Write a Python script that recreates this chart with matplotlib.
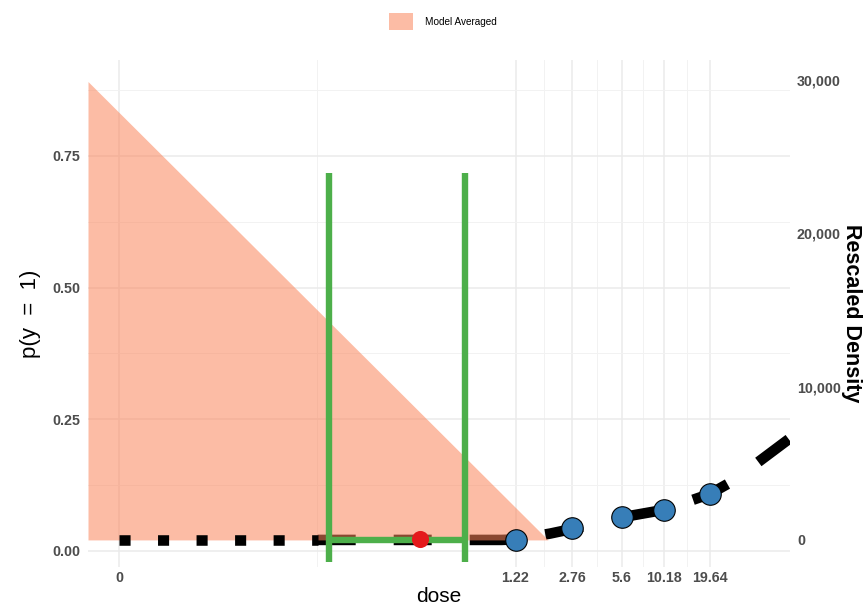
import numpy as np
import matplotlib
matplotlib.use('Agg')
import matplotlib.pyplot as plt
from matplotlib.patches import Patch

plt.rcParams['font.family'] = ['Liberation Sans', 'DejaVu Sans']

# --- data ---
# observed dose groups and response proportions
DOSE = [1.22, 2.76, 5.6, 10.18, 19.64]
PROP = [0.021, 0.044, 0.065, 0.078, 0.108]

# model averaged dose-response curve
CURVE_DOSE = [0, 0.068, 0.31, 1.0, 1.22, 2.0, 2.76, 5.6, 10.18, 19.64, 27.5, 44.1, 62.1]
CURVE_P = [0.021, 0.021, 0.021, 0.021, 0.022, 0.033, 0.042, 0.064, 0.078, 0.108, 0.133, 0.180, 0.214]
DOTTED_UNTIL = 0.068  # low-dose part drawn dotted

# BMD estimate with lower / upper bounds
BMD = 0.308
BMD_P = 0.022
BMDL = 0.0806
BMDU = 0.5895
CI_LOW, CI_HIGH = -0.021, 0.7175

# rescaled BMD density (right axis)
DENS_DOSE = [-0.0015, 1.944]
DENS_VAL = [29900, 0]

X_TICKS = [0, 1.22, 2.76, 5.6, 10.18, 19.64]
X_LABELS = ['0', '1.22', '2.76', '5.6', '10.18', '19.64']
Y_TICKS = [0.0, 0.25, 0.5, 0.75]
DENS_TICKS = [0, 10000, 20000, 30000]

SHIFT = 0.0042
DENS_ZERO_P = 0.021
DENS_SCALE = 0.873 / 30000


def fwd(x):
    return np.log10(np.clip(np.asarray(x, dtype=float) + SHIFT, 1e-9, None))


def inv(t):
    return 10 ** np.asarray(t, dtype=float) - SHIFT


def dens_to_p(d):
    return DENS_ZERO_P + np.asarray(d, dtype=float) * DENS_SCALE


def p_to_dens(p):
    return (np.asarray(p, dtype=float) - DENS_ZERO_P) / DENS_SCALE


FILL = '#FB855B'
GREEN = '#4DAF4A'
TICK_COLOR = '#4D4D4D'

fig = plt.figure(figsize=(8.68, 6.08), dpi=100)
ax = fig.add_axes([88 / 868, 41 / 608, 702 / 868, 507 / 608])
ax.set_xscale('function', functions=(fwd, inv))
ax.set_xlim(-0.0015, 62.1)
ax.set_ylim(-0.0304, 0.932)

# curve: dotted at low dose (on top of the density), dashed above
cd = np.array(CURVE_DOSE)
cp = np.array(CURVE_P)
low = cd <= DOTTED_UNTIL
high = cd >= DOTTED_UNTIL
ax.plot(cd[low], cp[low], color='black', lw=7.6, dashes=(1.05, 2.6),
        dash_capstyle='butt', zorder=3.5)
ax.plot(cd[high], cp[high], color='black', lw=7.6, dashes=(3.6, 3.6),
        dash_capstyle='butt', zorder=2)

# density polygon
ax.fill_between(DENS_DOSE, dens_to_p(0), dens_to_p(DENS_VAL),
                color=FILL, alpha=0.55, lw=0, zorder=3)

# BMD interval
for x in (BMDL, BMDU):
    ax.plot([x, x], [CI_LOW, CI_HIGH], color=GREEN, lw=4.6,
            solid_capstyle='butt', zorder=4)
ax.plot([BMDL, BMDU], [DENS_ZERO_P, DENS_ZERO_P], color=GREEN, lw=4.6,
        solid_capstyle='butt', zorder=4)
ax.plot([BMD], [BMD_P], 'o', color='#E41A1C', ms=12.3, mec='none', zorder=5)

# observed proportions
ax.plot(DOSE, PROP, 'o', mfc='#377EB8', mec='black', mew=0.8, ms=15.5,
        ls='none', zorder=6)

# axes, ticks, grid
ax.set_xticks(X_TICKS, labels=X_LABELS, fontweight='bold')
ax.set_yticks(Y_TICKS, labels=[f'{v:.2f}' for v in Y_TICKS], fontweight='bold')
tx = fwd(X_TICKS)
ax.set_xticks(inv((tx[:-1] + tx[1:]) / 2), minor=True)
ax.set_yticks([0.125, 0.375, 0.625, 0.875], minor=True)
ax.tick_params(which='both', length=0)
ax.tick_params(axis='x', pad=3, labelsize=10.3, labelcolor=TICK_COLOR)
ax.tick_params(axis='y', pad=5.5, labelsize=10.3, labelcolor=TICK_COLOR)
ax.grid(which='major', color='#EBEBEB', lw=1.1)
ax.grid(which='minor', color='#F2F2F2', lw=0.7)
ax.set_axisbelow(True)
for s in ax.spines.values():
    s.set_visible(False)

ax.set_xlabel('dose', fontsize=15, labelpad=1)
ax.set_ylabel('p(y  =  1)', fontsize=16, labelpad=8)

sec = ax.secondary_yaxis('right', functions=(p_to_dens, dens_to_p))
sec.set_yticks(DENS_TICKS, labels=[f'{v:,}' for v in DENS_TICKS], fontweight='bold')
sec.tick_params(length=0, pad=5, labelsize=10.3, labelcolor=TICK_COLOR)
for s in sec.spines.values():
    s.set_visible(False)
sec.set_ylabel('Rescaled Density', fontsize=15.5, fontweight='bold',
               rotation=270, va='bottom', labelpad=0)

fig.legend(handles=[Patch(facecolor=FILL, alpha=0.55, lw=0)],
           labels=['Model Averaged'], loc='center left',
           bbox_to_anchor=(389 / 868, 1 - 21.5 / 608), frameon=False,
           fontsize=7.2, handlelength=2.4, handleheight=2.3,
           handletextpad=1.2, borderpad=0, borderaxespad=0)

fig.savefig('out.png', dpi=100)
